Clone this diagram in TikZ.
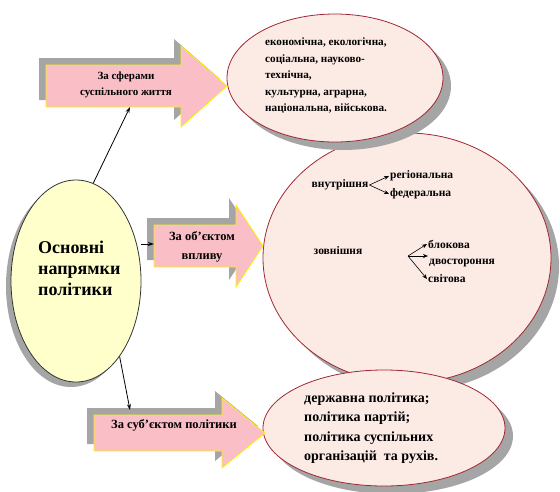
\documentclass[tikz,border=0pt]{standalone}
\usepackage{fontspec}
\setmainfont{Liberation Serif}
\usetikzlibrary{arrows.meta,shapes.geometric,shadows,calc}
\definecolor{arrowpink}{RGB}{250,190,198}
\definecolor{arrowedge}{RGB}{255,240,0}
\definecolor{ovalpink}{RGB}{252,234,228}
\definecolor{ovaledge}{RGB}{160,40,50}
\definecolor{mainyellow}{RGB}{255,255,204}
\definecolor{shadowgray}{RGB}{165,165,165}
\begin{document}
\begin{tikzpicture}[x=1pt,y=-1pt,
  oval/.style={ellipse, draw=ovaledge, line width=0.8pt, fill=ovalpink, inner sep=0pt,
    general shadow={fill=shadowgray, shadow xshift=8pt, shadow yshift=-8pt}},
  mainoval/.style={ellipse, draw=black!80, line width=0.8pt, fill=mainyellow, inner sep=0pt,
    general shadow={fill=shadowgray, shadow xshift=-5pt, shadow yshift=-5pt}},
  fatarrow/.style={fill=arrowpink, draw=arrowedge, line width=0.8pt},
  fatshadow/.style={fill=shadowgray, shift={(-7,-7)}},
  lbl/.style={font=\bfseries, inner sep=1pt},
  con/.style={-{Stealth[length=6pt,width=4pt]}, line width=0.8pt},
  small/.style={-{Stealth[length=5pt,width=4pt]}, line width=0.6pt},
  inner/.style={font=\bfseries\fontsize{11.5}{12}\selectfont, inner sep=1pt}
]
\useasboundingbox (0,0) rectangle (560,491);

% big ovals
\node[oval, minimum width=288pt, minimum height=250pt] (e2) at (407,258) {};
\node[oval, minimum width=216pt, minimum height=128pt] (e1) at (335,78) {};
\node[oval, minimum width=242pt, minimum height=116pt] (e3) at (384,428) {};

% main oval
\node[mainoval, minimum width=130pt, minimum height=202pt] (main) at (76,281) {};
\node[font=\bfseries\fontsize{18}{21}\selectfont, align=left, anchor=west, inner sep=0pt] (maintxt) at (38,268)
  {Основні\\напрямки\\політики};

% arrow 1
\fill[fatshadow] (46,65) -- (181,65) -- (181,46) -- (227,86) -- (181,127) -- (181,107) -- (46,107) -- cycle;
\draw[fatarrow] (46,65) -- (181,65) -- (181,46) -- (227,86) -- (181,127) -- (181,107) -- (46,107) -- cycle;
\coordinate (a1b) at (130,107);
\node[lbl, font=\bfseries\fontsize{11}{16}\selectfont, align=center] (a1) at (126,85) {За сферами\\суспільного життя};

% arrow 2
\fill[fatshadow] (154,225) -- (236,225) -- (236,205) -- (263,246) -- (236,287) -- (236,267) -- (154,267) -- cycle;
\draw[fatarrow] (154,225) -- (236,225) -- (236,205) -- (263,246) -- (236,287) -- (236,267) -- (154,267) -- cycle;
\coordinate (a2l) at (154,244);
\node[lbl, font=\bfseries\fontsize{12.5}{19}\selectfont, align=center] (a2) at (202,247) {За об’єктом\\впливу};

% arrow 3
\fill[fatshadow] (94,415) -- (222,415) -- (222,398) -- (265,433) -- (222,468) -- (222,451) -- (94,451) -- cycle;
\draw[fatarrow] (94,415) -- (222,415) -- (222,398) -- (265,433) -- (222,468) -- (222,451) -- (94,451) -- cycle;
\coordinate (a3t) at (130,410);
\node[lbl, font=\bfseries\fontsize{12.5}{14}\selectfont] (a3) at (174,425) {За суб’єктом політики};

% connectors from main oval
\draw[con] (main.80) -- (a1b);
\draw[con] (main.east |- a2l) -- (a2l);
\draw[con] (main.-60) -- (a3t);

% oval 1 text
\node[lbl, font=\bfseries\fontsize{11.2}{16.5}\selectfont, align=left, anchor=west, inner sep=0pt] (t1) at (265,76)
  {економічна, екологічна,\\соціальна, науково-\\технічна,\\культурна, аграрна,\\національна, військова.};

% oval 2 text
\node[inner] (vn) at (340,185) {внутрішня};
\node[inner, anchor=west] (reg) at (389,176) {регіональна};
\node[inner, anchor=west] (fed) at (389,194) {федеральна};
\draw[small] (vn.east) -- (reg.west);
\draw[small] (vn.east) -- (fed.west);

\node[inner] (zn) at (338,251) {зовнішня};
\coordinate (fork) at (408,256);
\node[inner, anchor=west] (blk) at (427,244) {блокова};
\node[inner, anchor=west] (dvo) at (428,263) {двостороння};
\node[inner, anchor=west] (svt) at (427,279) {світова};
\draw[small] (fork) -- (blk.west);
\draw[small] (fork) -- (dvo.west |- fork);
\draw[small] (fork) -- (svt.west);

% oval 3 text
\node[lbl, font=\bfseries\fontsize{14}{19.5}\selectfont, align=left, anchor=west, inner sep=0pt] (t3) at (304,428)
  {державна політика;\\політика партій;\\політика суспільних\\організацій \ та рухів.};
\end{tikzpicture}
\end{document}
